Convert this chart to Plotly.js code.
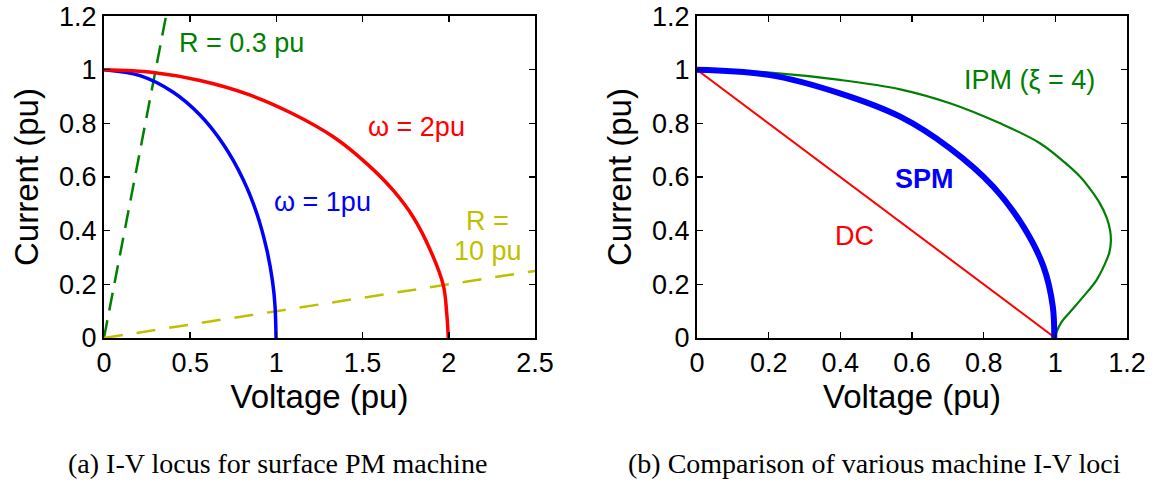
<!DOCTYPE html>
<html>
<head>
<meta charset="utf-8">
<script src="https://cdn.plot.ly/plotly-3.0.1.min.js"></script>
<style>html,body{margin:0;padding:0;background:#fff;}#chart{width:1172px;height:487px;}</style>
</head>
<body>
<div id="chart"></div>
<script>
// ---- Data ----
// Left panel: I-V locus for surface PM machine
const w1V = [0, 0.209, 0.402, 0.557, 0.692, 0.808, 0.886, 0.944, 0.978, 0.992, 0.998];
const w1I = [1.0, 0.978, 0.916, 0.831, 0.722, 0.590, 0.465, 0.33, 0.21, 0.12, 0];
const w2V = [0, 0.286, 0.557, 0.828, 1.098, 1.330, 1.524, 1.678, 1.794, 1.891, 1.968, 1.988, 1.997];
const w2I = [1.0, 0.99, 0.96, 0.91, 0.835, 0.75, 0.65, 0.55, 0.45, 0.33, 0.197, 0.092, 0];
const r03V = [0, 0.36];
const r03I = [0, 1.2];
const r10V = [0, 2.5];
const r10I = [0, 0.25];
// Right panel: comparison of machine I-V loci
const dcV = [0, 1];
const dcI = [1, 0];
const spmV = [0, 0.204, 0.399, 0.567, 0.706, 0.827, 0.911, 0.967, 0.993, 0.997];
const spmI = [1.0, 0.980, 0.912, 0.825, 0.707, 0.564, 0.415, 0.266, 0.117, 0];
const ipmV = [0, 0.204, 0.399, 0.567, 0.706, 0.846, 0.957, 1.03, 1.07, 1.10, 1.125, 1.143, 1.153, 1.155, 1.151, 1.139, 1.115, 1.078, 1.046, 1.018, 1.004, 0.999];
const ipmI = [1.003, 0.989, 0.962, 0.927, 0.875, 0.80, 0.726, 0.65, 0.6, 0.55, 0.5, 0.45, 0.40, 0.36, 0.32, 0.278, 0.216, 0.154, 0.104, 0.061, 0.024, 0];
// Ticks
const xTicksL = [0, 0.5, 1, 1.5, 2, 2.5];
const xTicksR = [0, 0.2, 0.4, 0.6, 0.8, 1, 1.2];
const yTicks = [0, 0.2, 0.4, 0.6, 0.8, 1, 1.2];

const GREEN = '#008000', YELLOW = '#BFBF00', BLUE = '#0000FF', RED = '#FF0000';
const SANS = 'Liberation Sans, Arial, sans-serif';
const SERIF = 'Liberation Serif, DejaVu Serif, serif';

const traces = [
  {x: r03V, y: r03I, mode: 'lines', line: {color: GREEN, width: 2.5, dash: '18px,10px'}, xaxis: 'x', yaxis: 'y'},
  {x: r10V, y: r10I, mode: 'lines', line: {color: YELLOW, width: 2.5, dash: '19px,14px'}, xaxis: 'x', yaxis: 'y'},
  {x: w1V, y: w1I, mode: 'lines', line: {color: BLUE, width: 3.5, shape: 'spline', smoothing: 1}, xaxis: 'x', yaxis: 'y'},
  {x: w2V, y: w2I, mode: 'lines', line: {color: RED, width: 3.5, shape: 'spline', smoothing: 1}, xaxis: 'x', yaxis: 'y'},
  {x: dcV, y: dcI, mode: 'lines', line: {color: RED, width: 2}, xaxis: 'x2', yaxis: 'y2'},
  {x: ipmV, y: ipmI, mode: 'lines', line: {color: GREEN, width: 2.2, shape: 'spline', smoothing: 1}, xaxis: 'x2', yaxis: 'y2'},
  {x: spmV, y: spmI, mode: 'lines', line: {color: BLUE, width: 6, shape: 'spline', smoothing: 1}, xaxis: 'x2', yaxis: 'y2'}
];

function xAxis(domain, range, ticks, anchor) {
  return {
    domain: domain, range: range, anchor: anchor,
    tickmode: 'array', tickvals: ticks,
    ticks: 'inside', ticklen: 6, tickwidth: 1.5, tickcolor: '#000',
    showline: true, linecolor: '#000', linewidth: 2, mirror: 'ticks',
    showgrid: false, zeroline: false,
    tickfont: {family: SANS, size: 27, color: '#000'},
    title: {text: 'Voltage (pu)', font: {family: SANS, size: 33, color: '#000'}, standoff: 5},
    fixedrange: true
  };
}
function yAxis(domain, anchor) {
  return {
    domain: domain, range: [0, 1.2], anchor: anchor,
    tickmode: 'array', tickvals: yTicks,
    ticks: 'inside', ticklen: 6, tickwidth: 1.5, tickcolor: '#000',
    showline: true, linecolor: '#000', linewidth: 2, mirror: 'ticks',
    showgrid: false, zeroline: false,
    tickfont: {family: SANS, size: 27, color: '#000'},
    title: {text: 'Current (pu)', font: {family: SANS, size: 33, color: '#000'}, standoff: 10},
    fixedrange: true
  };
}

const yDom = [0.306, 0.967];
const layout = {
  width: 1172, height: 487,
  margin: {l: 0, r: 0, t: 0, b: 0},
  paper_bgcolor: '#fff', plot_bgcolor: '#fff',
  showlegend: false,
  xaxis: xAxis([0.0887, 0.4565], [0, 2.5], xTicksL, 'y'),
  yaxis: yAxis(yDom, 'x'),
  xaxis2: xAxis([0.5947, 0.9616], [0, 1.2], xTicksR, 'y2'),
  yaxis2: yAxis(yDom, 'x2'),
  annotations: [
    {xref: 'x', yref: 'y', x: 0.423, y: 1.10, text: 'R = 0.3 pu', showarrow: false, xanchor: 'left', yanchor: 'middle', font: {family: SANS, size: 27, color: GREEN}},
    {xref: 'x', yref: 'y', x: 1.52, y: 0.786, text: 'ω = 2pu', showarrow: false, xanchor: 'left', yanchor: 'middle', font: {family: SANS, size: 27, color: RED}},
    {xref: 'x', yref: 'y', x: 0.974, y: 0.507, text: 'ω = 1pu', showarrow: false, xanchor: 'left', yanchor: 'middle', font: {family: SANS, size: 27, color: BLUE}},
    {xref: 'x', yref: 'y', x: 2.227, y: 0.436, text: 'R =', showarrow: false, xanchor: 'center', yanchor: 'middle', font: {family: SANS, size: 27, color: YELLOW}},
    {xref: 'x', yref: 'y', x: 2.227, y: 0.324, text: '10 pu', showarrow: false, xanchor: 'center', yanchor: 'middle', font: {family: SANS, size: 27, color: YELLOW}},
    {xref: 'x2', yref: 'y2', x: 0.739, y: 0.962, text: 'IPM (ξ = 4)', showarrow: false, xanchor: 'left', yanchor: 'middle', font: {family: SANS, size: 27, color: GREEN}},
    {xref: 'x2', yref: 'y2', x: 0.548, y: 0.593, text: '<b>SPM</b>', showarrow: false, xanchor: 'left', yanchor: 'middle', font: {family: SANS, size: 27, color: BLUE}},
    {xref: 'x2', yref: 'y2', x: 0.380, y: 0.38, text: 'DC', showarrow: false, xanchor: 'left', yanchor: 'middle', font: {family: SANS, size: 27, color: RED}},
    {xref: 'paper', yref: 'paper', x: 277 / 1172, y: 1 - 463 / 487, text: '(a) I-V locus for surface PM machine', showarrow: false, xanchor: 'center', yanchor: 'middle', font: {family: SERIF, size: 28, color: '#000'}},
    {xref: 'paper', yref: 'paper', x: 875 / 1172, y: 1 - 463 / 487, text: '(b) Comparison of various machine I-V loci', showarrow: false, xanchor: 'center', yanchor: 'middle', font: {family: SERIF, size: 28, color: '#000'}}
  ]
};

Plotly.newPlot('chart', traces, layout, {staticPlot: true, displayModeBar: false});
</script>
</body>
</html>
